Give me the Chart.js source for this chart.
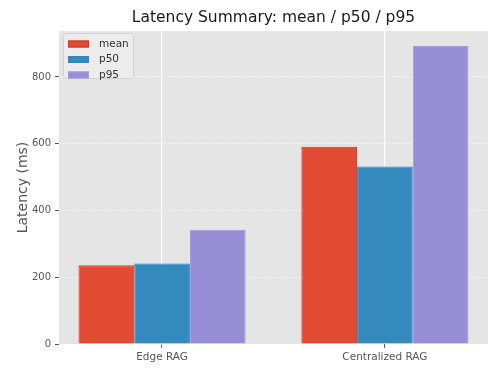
<!DOCTYPE html>
<html>
<head>
<meta charset="utf-8">
<script src="https://cdn.jsdelivr.net/npm/chart.js@4/dist/chart.umd.min.js"></script>
<style>
  html, body { margin: 0; padding: 0; background: #fff; }
  #wrap { width: 500px; height: 375px; }
</style>
</head>
<body>
<div id="wrap"><canvas id="chart" width="500" height="375"></canvas></div>
<script>
// data
const categories = ['Edge RAG', 'Centralized RAG'];
const seriesNames = ['mean', 'p50', 'p95'];
const meanValues = [236, 591];
const p50Values = [241, 532];
const p95Values = [342, 893];
const yTicks = [0, 200, 400, 600, 800];

const colors = ['#E24A33', '#348ABD', '#988ED5'];
const edges = ['#D8341C', '#2F86C2', '#A39AE0'];
const FONT = "'DejaVu Sans', sans-serif";
const TITLE = 'Latency Summary: mean / p50 / p95';

// matplotlib-like limits: bars span +-0.375 around each category, 5% margin
const half = 0.375;
const span = (categories.length - 1) + 2 * half;
const xMin = -half - 0.05 * span;
const xMax = categories.length - 1 + half + 0.05 * span;
const yMax = Math.max(...meanValues, ...p50Values, ...p95Values) * 1.05;

const allSeries = [meanValues, p50Values, p95Values];
const datasets = allSeries.map((vals, i) => ({
    label: seriesNames[i],
    data: vals.map((v, j) => ({ x: j, y: v })),
    backgroundColor: colors[i],
    borderColor: edges[i],
    borderWidth: 1,
    categoryPercentage: 0.75,
    barPercentage: 1.0
}));

// plot background + title centred over the plot area (matplotlib style)
const plotBg = {
    id: 'plotBg',
    beforeDraw(chart) {
        const a = chart.chartArea, ctx = chart.ctx;
        ctx.save();
        ctx.fillStyle = '#E5E5E5';
        ctx.fillRect(a.left, a.top, a.right - a.left, a.bottom - a.top);
        ctx.fillStyle = '#1a1a1a';
        ctx.font = '15.5px ' + FONT;
        ctx.textAlign = 'center';
        ctx.textBaseline = 'middle';
        ctx.fillText(TITLE, (a.left + a.right) / 2, 18);
        ctx.restore();
    }
};

// legend box drawn inside the plot, like matplotlib's upper-left legend
const insideLegend = {
    id: 'insideLegend',
    afterDatasetsDraw(chart) {
        const ctx = chart.ctx;
        const x0 = 63, y0 = 33, w = 70, h = 45, r = 3;
        ctx.save();
        ctx.beginPath();
        ctx.roundRect(x0 + 0.5, y0 + 0.5, w, h, r);
        ctx.fillStyle = 'rgba(236,236,236,0.9)';
        ctx.fill();
        ctx.strokeStyle = '#d2d2d2';
        ctx.lineWidth = 1;
        ctx.stroke();
        ctx.font = '10.5px ' + FONT;
        ctx.textBaseline = 'middle';
        chart.data.datasets.forEach((ds, i) => {
            const cy = y0 + 11 + i * 15.5;
            ctx.fillStyle = ds.backgroundColor;
            ctx.fillRect(68, cy - 3.5, 21, 7);
            ctx.strokeStyle = ds.borderColor;
            ctx.strokeRect(68.5, cy - 3, 20, 6);
            ctx.fillStyle = '#333';
            ctx.fillText(ds.label, 99, cy);
        });
        ctx.restore();
    }
};

new Chart(document.getElementById('chart'), {
    type: 'bar',
    data: { datasets },
    plugins: [plotBg, insideLegend],
    options: {
        responsive: false,
        animation: false,
        layout: { padding: { left: 0, right: 12, top: 31, bottom: 0 } },
        plugins: {
            legend: { display: false },
            tooltip: { enabled: false },
            title: { display: false }
        },
        scales: {
            x: {
                type: 'linear',
                offset: false,
                min: xMin,
                max: xMax,
                afterBuildTicks: s => { s.ticks = categories.map((c, i) => ({ value: i })); },
                afterFit: s => { s.height = 31; },
                ticks: {
                    color: '#555',
                    font: { family: FONT, size: 10.5 },
                    padding: 3,
                    maxRotation: 0,
                    autoSkip: false,
                    callback: v => categories[v]
                },
                grid: { offset: false, color: '#ffffff', lineWidth: 1.2, tickColor: '#555', tickLength: 4, tickWidth: 1 },
                border: { display: false }
            },
            y: {
                min: 0,
                max: yMax,
                afterBuildTicks: s => { s.ticks = yTicks.map(v => ({ value: v })); },
                afterFit: s => { s.width = 59; },
                ticks: {
                    color: '#555',
                    font: { family: FONT, size: 10 },
                    padding: 4
                },
                grid: { color: 'rgba(255,255,255,0.9)', lineWidth: 1, tickColor: '#555', tickLength: 4, tickWidth: 1 },
                border: { display: false, dash: [1.2, 2] },
                title: {
                    display: true,
                    text: 'Latency (ms)',
                    color: '#555',
                    font: { family: FONT, size: 14 },
                    padding: { top: 14.5, bottom: 0 }
                }
            }
        }
    }
});
</script>
</body>
</html>
